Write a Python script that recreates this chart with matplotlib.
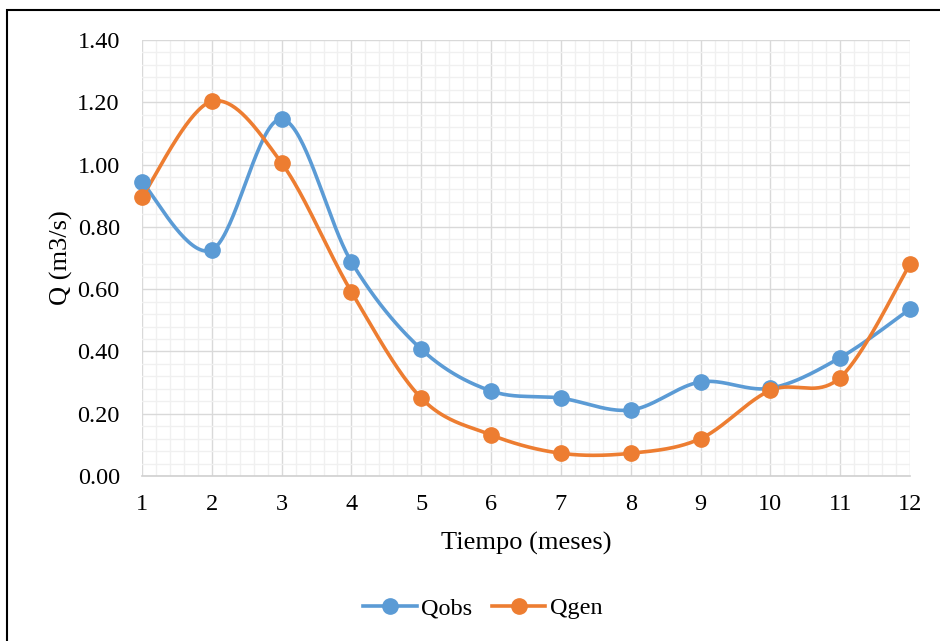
import numpy as np
import matplotlib
matplotlib.use("Agg")
import matplotlib.pyplot as plt
from matplotlib.ticker import MultipleLocator, FormatStrFormatter
from matplotlib.patches import Rectangle

plt.rcParams['font.family'] = ['Liberation Serif', 'DejaVu Serif']

months = [1, 2, 3, 4, 5, 6, 7, 8, 9, 10, 11, 12]
q_obs = [0.944, 0.726, 1.146, 0.687, 0.407, 0.273, 0.250, 0.212, 0.302, 0.282, 0.380, 0.536]
q_gen = [0.896, 1.203, 1.005, 0.591, 0.250, 0.132, 0.073, 0.073, 0.120, 0.275, 0.316, 0.680]
series_names = ["Qobs", "Qgen"]
colors = ["#5B9BD5", "#ED7D31"]


def smooth(x, y, n=40):
    x = np.asarray(x, float)
    y = np.asarray(y, float)
    px = np.concatenate([[x[0]], x, [x[-1]]])
    py = np.concatenate([[y[0]], y, [y[-1]]])
    t = np.linspace(0, 1, n)
    xs, ys = [], []
    for i in range(1, len(px) - 2):
        p0x, p0y = px[i], py[i]
        p3x, p3y = px[i + 1], py[i + 1]
        c1x = p0x + (px[i + 1] - px[i - 1]) / 6
        c1y = p0y + (py[i + 1] - py[i - 1]) / 6
        c2x = p3x - (px[i + 2] - px[i]) / 6
        c2y = p3y - (py[i + 2] - py[i]) / 6
        b0 = (1 - t) ** 3
        b1 = 3 * (1 - t) ** 2 * t
        b2 = 3 * (1 - t) * t ** 2
        b3 = t ** 3
        xs.append(b0 * p0x + b1 * c1x + b2 * c2x + b3 * p3x)
        ys.append(b0 * p0y + b1 * c1y + b2 * c2y + b3 * p3y)
    return np.concatenate(xs), np.concatenate(ys)


fig = plt.figure(figsize=(9.4, 6.41), dpi=100)
W, H = 940, 641
ax = fig.add_axes([142 / W, 1 - 476 / H, (910 - 142) / W, (476 - 40) / H])

# outer border
fig.patches.append(Rectangle((7 / W, -0.05), 1.2, 1 - 10 / H + 0.05, transform=fig.transFigure,
                             fill=False, edgecolor="black", linewidth=1.5))

for y, name, c in zip([q_obs, q_gen], series_names, colors):
    sx, sy = smooth(months, y)
    ax.plot(sx, sy, color=c, linewidth=2.6, solid_capstyle='round', zorder=3, clip_on=False)
    ax.plot(months, y, linestyle='none', marker='o', markersize=11, color=c, zorder=4, clip_on=False)
    ax.plot([], [], color=c, linewidth=2.6, marker='o', markersize=11, label=name)

ax.set_xlim(1, 12)
ax.set_ylim(0, 1.4)
ax.xaxis.set_major_locator(MultipleLocator(1))
ax.xaxis.set_minor_locator(MultipleLocator(0.2))
ax.yaxis.set_major_locator(MultipleLocator(0.2))
ax.yaxis.set_minor_locator(MultipleLocator(0.04))
ax.yaxis.set_major_formatter(FormatStrFormatter('%.2f'))

ax.grid(which='major', color='#d9d9d9', linewidth=1.0, zorder=1)
ax.grid(which='minor', color='#f0f0f0', linewidth=1.0, zorder=0)
ax.set_axisbelow(True)
for s in ['top', 'right', 'left']:
    ax.spines[s].set_visible(False)
ax.spines['bottom'].set_color('#d0d0d0')
ax.spines['bottom'].set_linewidth(1.2)
ax.tick_params(which='both', length=0, labelsize=17.5, colors='black')
ax.tick_params(axis='y', pad=16)
ax.tick_params(axis='x', pad=13)

ax.set_xlabel("Tiempo (meses)", fontsize=19, labelpad=12)
ax.set_ylabel("Q (m3/s)", fontsize=19, labelpad=3)

fig.legend(loc='center', bbox_to_anchor=(483 / W, 1 - 608 / H), ncol=2, frameon=False,
           fontsize=17.5, handlelength=2.2, columnspacing=0.8, handletextpad=0.2)

fig.savefig("out.png", dpi=100)
